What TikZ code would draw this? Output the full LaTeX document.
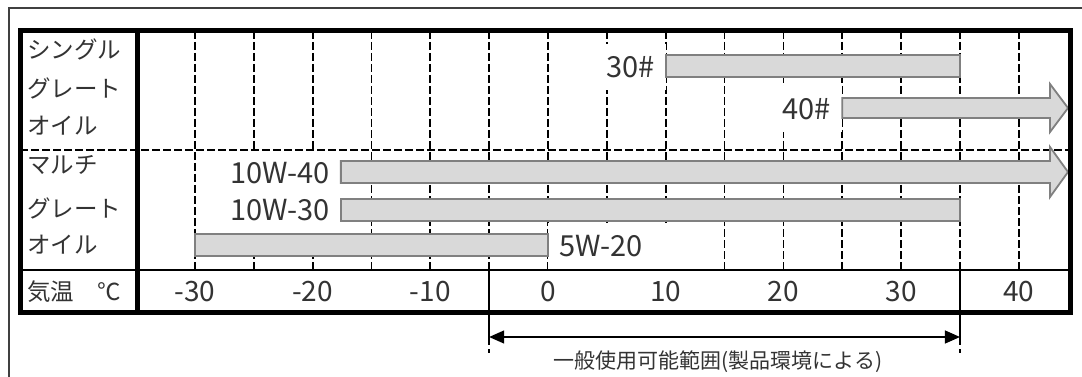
\documentclass[tikz,border=0pt]{standalone}
\usepackage{fontspec}
\setmainfont{Noto Sans CJK JP}
\usetikzlibrary{arrows.meta, positioning, calc}

\begin{document}
\begin{tikzpicture}[x=1pt, y=-1pt, >=Stealth, line cap=butt, line join=miter]
	\def\xo{548}    % x of 0 degC
	\def\xs{11.77}  % px per degC
	\def\xl{20}     % table left
	\def\xc{137}    % label column
	\def\xr{1070}   % table right
	\def\yt{31}     % table top
	\def\ym{150}    % single / multi
	\def\yr{270}    % temperature row
	\def\yb{312}    % table bottom
	
	% degC -> x
	\newcommand{\tx}[1]{\xo+\xs*(#1)}
	
	%======================
	% STYLES
	%======================
	\tikzset{
		outer/.style={line width=1.3pt, black!75},
		frame/.style={line width=5pt, black},
		sep/.style={line width=1.8pt, black},
		gridline/.style={line width=1.8pt, black, dash pattern=on 8pt off 3pt},
		bar/.style={line width=1.8pt, draw=gray, fill=gray!30},
		rowlbl/.style={font=\fontsize{23.5}{25}\selectfont, text=black!80, anchor=west, inner sep=0pt},
		oil/.style={font=\fontsize{29}{31}\selectfont, text=black!80, fill=white,
			inner xsep=11pt, inner ysep=0pt, minimum height=46pt},
		temp/.style={font=\fontsize{28}{30}\selectfont, text=black!80, inner sep=0pt},
		note/.style={font=\fontsize{21}{23}\selectfont, text=black!80, inner sep=0pt}
	}
	
	\newcommand{\oilbar}[4]{% from, to, top, bottom
		\draw[bar] ({\tx{#1}},#3) rectangle ({\tx{#2}},#4);
	}
	\newcommand{\oilarrow}[3]{% from, top, bottom
		\draw[bar] ({\tx{#1}},#2) -- (1050,#2) -- (1050,#2-14) -- (1068,{(#2+#3)/2})
		-- (1050,#3+14) -- (1050,#3) -- ({\tx{#1}},#3) -- cycle;
	}
	
	\useasboundingbox (0,0) rectangle (1082,377);
	
	% outer frame (cut off)
	\draw[outer] (9,377) -- (9,8) -- (1082,8);
	
	% grid
	\foreach \t in {-30,-25,...,40}
	\draw[gridline] ({\tx{\t}},\yt) -- ({\tx{\t}},\yr);
	
	% oil labels (white boxes hide the grid)
	\node[oil, anchor=east] (o30) at ({\tx{10}},67) {30\#};
	\node[oil, anchor=east] (o40) at ({\tx{25}},109) {40\#};
	\node[oil, anchor=east] (o1040) at ({\tx{-17.6}},173) {10W-40};
	\node[oil, anchor=east] (o1030) at ({\tx{-17.6}},210) {10W-30};
	\node[oil, anchor=west, text width=104pt, align=left] (o520) at ({\tx{0}},246) {5W-20};
	
	\draw[gridline] (\xl,\ym) -- (\xr,\ym);
	\draw[sep] (\xl,\yr) -- (\xr,\yr);
	
	% range limits
	\foreach \t in {-5,35}
	\draw[sep, dash pattern=on 75pt off 4pt on 6pt] ({\tx{\t}},\yr) -- ({\tx{\t}},353);
	
	% bars
	\oilbar{10}{35}{55}{77}
	\oilarrow{25}{98}{118}
	\oilarrow{-17.6}{161}{183}
	\oilbar{-17.6}{35}{199}{221}
	\oilbar{-30}{0}{234}{256}
	
	% table border
	\draw[frame] (\xl,\yt) rectangle (\xr,\yb);
	\draw[frame] (\xc,\yt) -- (\xc,\yb);
	
	% row labels
	\node[rowlbl] (single) at (27,49) {シングル};
	\node[rowlbl] (grade1) at (27,88) {グレート};
	\node[rowlbl] (oil1) at (27,126) {オイル};
	\node[rowlbl] (multi) at (27,165) {マルチ};
	\node[rowlbl] (grade2) at (27,208) {グレート};
	\node[rowlbl] (oil2) at (27,245) {オイル};
	\node[rowlbl] (airtemp) at (27,292) {気温　℃};
	
	% temperatures
	\foreach \t in {-30,-20,...,40}
	\node[temp] (t\t) at ({\tx{\t}},292) {\t};
	
	% usable range
	\coordinate (rl) at ({\tx{-5}},337);
	\coordinate (rr) at ({\tx{35}},337);
	\draw[line width=1.3pt, {Triangle[length=15pt, width=13pt]}-{Triangle[length=15pt, width=13pt]}] (rl) -- (rr);
	\node[note] (range) at (718,362) {一般使用可能範囲(製品環境による)};
\end{tikzpicture}
\end{document}
